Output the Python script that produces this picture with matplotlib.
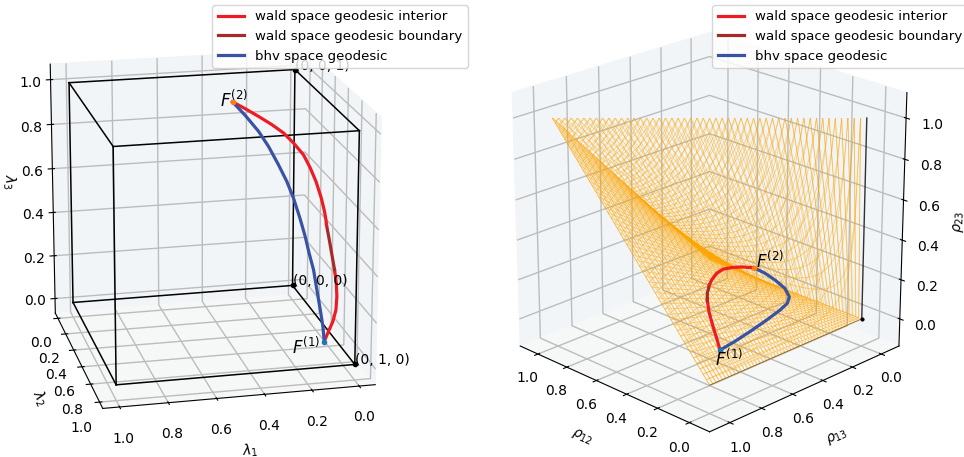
import matplotlib
matplotlib.use("Agg")
import matplotlib.pyplot as plt
import numpy as np

plt.rcParams["grid.color"] = "#bcbcbc"
plt.rcParams["grid.linewidth"] = 1.0

# grid used for the orange correlation surfaces
mesh_levels = [0.00, 0.02, 0.04, 0.06, 0.08, 0.10, 0.12, 0.14, 0.16, 0.18,
               0.20, 0.22, 0.24, 0.26, 0.28, 0.30, 0.32, 0.34, 0.36, 0.38,
               0.40, 0.42, 0.44, 0.46, 0.48, 0.50, 0.52, 0.54, 0.56, 0.58,
               0.60, 0.62, 0.64, 0.66, 0.68, 0.70, 0.72, 0.74, 0.76, 0.78,
               0.80, 0.82, 0.84, 0.86, 0.88, 0.90, 0.92, 0.94, 0.96, 0.98, 1.00]
cube_corners = [0.0, 1.0]
ticks = [0.0, 0.2, 0.4, 0.6, 0.8, 1.0]

# left panel: lambda coordinates
lam_red1 = ([0.047, 0.022, -0.004, -0.025, -0.038, -0.044, -0.045],
            [0.700, 0.675, 0.650, 0.621, 0.587, 0.554, 0.520],
            [-0.006, 0.028, 0.062, 0.102, 0.150, 0.198, 0.247])
lam_dark = ([-0.045, -0.043, -0.041, -0.038],
            [0.520, 0.483, 0.445, 0.408],
            [0.247, 0.302, 0.358, 0.414])
lam_red2 = ([-0.038, -0.039, -0.038, -0.032, -0.019, -0.002, 0.020, 0.057, 0.096, 0.142, 0.197, 0.252, 0.304],
            [0.408, 0.395, 0.374, 0.341, 0.299, 0.265, 0.232, 0.203, 0.178, 0.157, 0.136, 0.117, 0.100],
            [0.414, 0.432, 0.463, 0.514, 0.577, 0.629, 0.680, 0.727, 0.768, 0.802, 0.837, 0.870, 0.899])
lam_blue = ([0.047, 0.043, 0.044, 0.046, 0.048, 0.057, 0.064, 0.075, 0.092, 0.111, 0.138, 0.171, 0.206, 0.256, 0.304],
            [0.700, 0.662, 0.621, 0.570, 0.520, 0.478, 0.437, 0.392, 0.341, 0.299, 0.257, 0.211, 0.174, 0.134, 0.100],
            [-0.006, 0.048, 0.108, 0.181, 0.254, 0.316, 0.378, 0.444, 0.523, 0.586, 0.651, 0.722, 0.781, 0.845, 0.899])

# right panel: rho coordinates
rho_red1 = ([0.075, 0.177, 0.297, 0.418, 0.522],
            [0.860, 0.778, 0.684, 0.586, 0.493],
            [0.100, 0.097, 0.094, 0.091, 0.088])
rho_dark = ([0.522, 0.579, 0.645],
            [0.493, 0.436, 0.357],
            [0.088, 0.086, 0.084])
rho_red2 = ([0.645, 0.681, 0.723, 0.740, 0.721, 0.690, 0.647],
            [0.357, 0.305, 0.229, 0.168, 0.118, 0.082, 0.052],
            [0.084, 0.083, 0.082, 0.080, 0.080, 0.080, 0.080])
rho_blue = ([0.075, 0.093, 0.124, 0.163, 0.201, 0.232, 0.280, 0.365, 0.469, 0.561, 0.647],
            [0.860, 0.757, 0.619, 0.469, 0.341, 0.259, 0.195, 0.135, 0.093, 0.066, 0.052],
            [0.100, 0.098, 0.096, 0.093, 0.090, 0.089, 0.087, 0.085, 0.083, 0.082, 0.080])

RED, DARK, BLUE = "#ed1c24", "#a52a2a", "#3953a4"
PANE = (0.95, 0.96, 0.97, 1.0)


def setup(a, labels):
    a.set_box_aspect((1, 1, 1))
    a.set_xlabel(labels[0]); a.set_ylabel(labels[1]); a.set_zlabel(labels[2])
    a.set_xticks(ticks); a.set_yticks(ticks); a.set_zticks(ticks)
    a.xaxis.set_pane_color(PANE)
    a.yaxis.set_pane_color(PANE)
    a.zaxis.set_pane_color((0.965, 0.97, 0.97, 1.0))


def geodesics(a, red1, dark, red2, blue):
    a.plot(*red1, color=RED, lw=2.3, zorder=3, label="wald space geodesic interior")
    a.plot(*dark, color=DARK, lw=2.3, zorder=3, label="wald space geodesic boundary")
    a.plot(*red2, color=RED, lw=2.3, zorder=3)
    a.plot(*blue, color=BLUE, lw=2.3, zorder=3, label="bhv space geodesic")
    a.scatter(red1[0][0], red1[1][0], red1[2][0], color="tab:blue", s=9, zorder=4, depthshade=False)
    a.scatter(red2[0][-1], red2[1][-1], red2[2][-1], color="tab:orange", s=9, zorder=4, depthshade=False)


fig = plt.figure(figsize=(9.64, 4.57), dpi=100)

ax = fig.add_axes([-0.0257, 0.0048, 0.4725, 0.997], projection="3d", computed_zorder=False)
ax.view_init(elev=18, azim=77)
ax.set_xlim(-0.0687, 1.0687); ax.set_ylim(-0.0687, 1.0687); ax.set_zlim(-0.0687, 1.0687)
setup(ax, ["$\\lambda_1$", "$\\lambda_2$", "$\\lambda_3$"])
for a in cube_corners:
    for b in cube_corners:
        ax.plot([0, 1], [a, a], [b, b], color="k", lw=1.1, zorder=1)
        ax.plot([a, a], [0, 1], [b, b], color="k", lw=1.1, zorder=1)
        ax.plot([a, a], [b, b], [0, 1], color="k", lw=1.1, zorder=1)
ax.scatter([0, 0, 0], [0, 1, 0], [0, 0, 1], color="k", s=9, zorder=2, depthshade=False)
ax.text(0, 0, 0, "(0, 0, 0)", fontsize=10, zorder=4)
ax.text(0, 1, 0, "(0, 1, 0)", fontsize=10, zorder=4)
ax.text(0, 0, 1, "(0, 0, 1)", fontsize=10, zorder=4)
geodesics(ax, lam_red1, lam_dark, lam_red2, lam_blue)
ax.text(0.359, 0.100, 0.881, "$F^{(2)}$", fontsize=12, zorder=4)
ax.text(0.187, 0.700, -0.049, "$F^{(1)}$", fontsize=12, zorder=4)
ax.legend(loc="upper right", bbox_to_anchor=(467.5 / 964, 1 - 5 / 457), bbox_transform=fig.transFigure,
          fontsize=9.6, borderaxespad=0)

ax2 = fig.add_axes([0.4913, -0.0026, 0.4767, 1.007], projection="3d", computed_zorder=False)
ax2.view_init(elev=22, azim=135)
ax2.set_xlim(-0.125, 1.125); ax2.set_ylim(-0.125, 1.125); ax2.set_zlim(-0.14, 1.1225)
setup(ax2, ["$\\rho_{12}$", "$\\rho_{13}$", "$\\rho_{23}$"])
ax2.tick_params(axis="x", pad=1)
ax2.tick_params(axis="y", pad=1)
X, Y = np.meshgrid(mesh_levels, mesh_levels)
with np.errstate(divide="ignore", invalid="ignore"):
    ZA = np.where(X <= Y, X / Y, np.nan)
    ZB = np.where(Y <= X, Y / X, np.nan)
for zz in (ZA, ZB, X * Y):
    ax2.plot_wireframe(X, Y, zz, color="orange", lw=0.5, alpha=0.55, rstride=1, cstride=1, zorder=1)
ax2.plot([0, 0], [0, 1], [0, 0], color="k", lw=0.6, alpha=0.4, zorder=2)
ax2.plot([0, 0], [0, 0], [0, 1], color="k", lw=1, alpha=0.8, zorder=2)
ax2.scatter([0], [0], [0], color="k", s=4, zorder=2, depthshade=False)
geodesics(ax2, rho_red1, rho_dark, rho_red2, rho_blue)
ax2.text(0.638, 0.047, 0.080, "$F^{(2)}$", fontsize=12, zorder=4)
ax2.text(-0.026, 0.992, 0.100, "$F^{(1)}$", fontsize=12, zorder=4)
ax2.legend(loc="upper right", bbox_to_anchor=(967.5 / 964, 1 - 5 / 457), bbox_transform=fig.transFigure,
           fontsize=9.6, borderaxespad=0)

fig.savefig("out.png", dpi=100)
